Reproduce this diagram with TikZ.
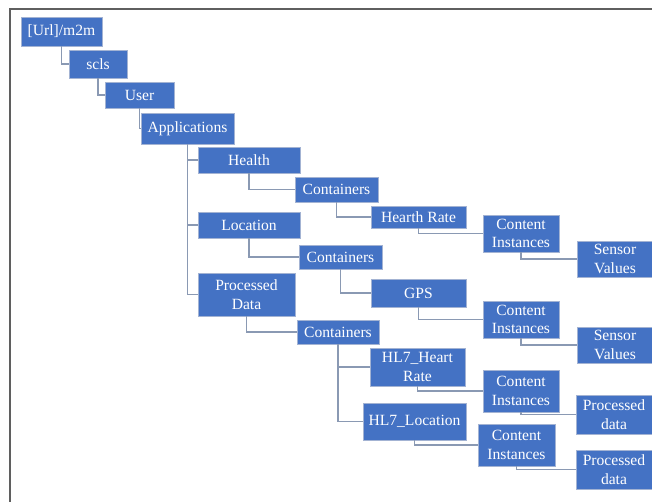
\documentclass[tikz,border=0pt]{standalone}
\usepackage{fontspec}
\setmainfont{Liberation Serif}
\definecolor{boxfill}{HTML}{4472C4}
\definecolor{boxedge}{HTML}{A3B3D3}
\definecolor{linkcol}{HTML}{8A99B3}
\definecolor{framecol}{HTML}{5F5F5F}
\begin{document}
\begin{tikzpicture}[x=1pt,y=-1pt,
  nd/.style={rectangle, fill=boxfill, draw=boxedge, line width=0.8pt, inner sep=0pt,
    text=white, align=center, font=\fontsize{15.6}{18.6}\selectfont},
  lk/.style={draw=linkcol, line width=1.2pt}]
\useasboundingbox (0,0) rectangle (652,502);
\clip (0,0) rectangle (652,502);
\fill[white] (0,0) rectangle (652,502);
\draw[framecol, line width=1.5pt] (10,9) rectangle (680,530);
% nodes
\node[nd, minimum width=81, minimum height=29] (url) at (61.5,31.5) {[Url]/m2m};
\node[nd, minimum width=58, minimum height=28] (scls) at (98,64) {scls};
\node[nd, minimum width=69, minimum height=26] (user) at (139.5,95) {User};
\node[nd, minimum width=93, minimum height=31] (apps) at (187.5,128.5) {Applications};
\node[nd, minimum width=102, minimum height=26] (health) at (249,160) {Health};
\node[nd, minimum width=83, minimum height=25] (contA) at (336.5,189.5) {Containers};
\node[nd, minimum width=95, minimum height=22] (hr) at (418.5,217) {Hearth Rate};
\node[nd, minimum width=76, minimum height=37] (ciA) at (521,233.5) {Content\\Instances};
\node[nd, minimum width=76, minimum height=36] (svA) at (615,259) {Sensor\\Values};
\node[nd, minimum width=102, minimum height=26] (loc) at (249,225) {Location};
\node[nd, minimum width=83, minimum height=24] (contB) at (340.5,257) {Containers};
\node[nd, minimum width=95, minimum height=28] (gps) at (418.5,293) {GPS};
\node[nd, minimum width=76, minimum height=37] (ciB) at (521,319.5) {Content\\Instances};
\node[nd, minimum width=76, minimum height=36] (svB) at (615,345) {Sensor\\Values};
\node[nd, minimum width=97, minimum height=43] (pd) at (246.5,294.5) {Processed\\Data};
\node[nd, minimum width=82, minimum height=24] (contC) at (338,332) {Containers};
\node[nd, minimum width=95, minimum height=38] (hlhr) at (417.5,367) {HL7\_Heart\\Rate};
\node[nd, minimum width=76, minimum height=42] (ciC) at (521,391) {Content\\Instances};
\node[nd, minimum width=76, minimum height=39] (pdA) at (614,414.5) {Processed\\data};
\node[nd, minimum width=103, minimum height=37] (hlloc) at (414.5,421.5) {HL7\_Location};
\node[nd, minimum width=77, minimum height=42] (ciD) at (516.5,445) {Content\\Instances};
\node[nd, minimum width=76, minimum height=39] (pdB) at (614,469.5) {Processed\\data};
% connectors
\draw[lk] (url.south) |- (scls.west);
\draw[lk] (scls.south) |- (user.west);
\draw[lk] (user.south) |- (apps.west);
\draw[lk] (apps.south) |- (health.west);
\draw[lk] (apps.south) |- (loc.west);
\draw[lk] (apps.south) |- (pd.west);
\draw[lk] (health.south) |- (contA.west);
\draw[lk] (contA.south) |- (hr.west);
\draw[lk] (hr.south) |- (ciA.west);
\draw[lk] (ciA.south) |- (svA.west);
\draw[lk] (loc.south) |- (contB.west);
\draw[lk] (contB.south) |- (gps.west);
\draw[lk] (gps.south) |- (ciB.west);
\draw[lk] (ciB.south) |- (svB.west);
\draw[lk] (pd.south) |- (contC.west);
\draw[lk] (contC.south) |- (hlhr.west);
\draw[lk] (contC.south) |- (hlloc.west);
\draw[lk] (hlhr.south) |- (ciC.west);
\draw[lk] (ciC.south) |- (pdA.west);
\draw[lk] (hlloc.south) |- (ciD.west);
\draw[lk] (ciD.south) |- (pdB.west);
\end{tikzpicture}
\end{document}
